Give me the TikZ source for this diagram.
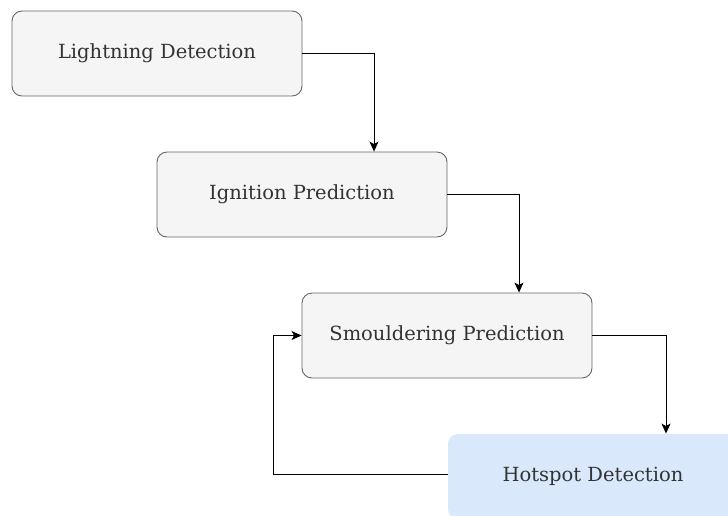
\documentclass[tikz,border=0pt]{standalone}
\usepackage{fontspec}
\setmainfont{DejaVu Serif}
\usetikzlibrary{arrows.meta}
\definecolor{boxfill}{HTML}{F5F5F5}
\definecolor{boxline}{HTML}{666666}
\definecolor{bluefill}{HTML}{DAE8FC}
\definecolor{txt}{HTML}{333333}
\tikzset{
  proc/.style={draw=boxline, fill=boxfill, line width=0.9pt, rounded corners=10pt,
    minimum width=290pt, minimum height=85pt, inner sep=0pt,
    font=\fontsize{19.5}{22}\selectfont, text=txt},
  hot/.style={proc, draw=none, fill=bluefill},
  conn/.style={draw=black, line width=0.9pt, -{Stealth[length=10pt,width=9pt,inset=2.5pt]}}
}
\begin{document}
\begin{tikzpicture}[x=1pt,y=-1pt]
\clip (0,0) rectangle (728,515);
\useasboundingbox (0,0) rectangle (728,515);
\node[proc] (ld) at (157,53.5) {\raisebox{-2pt}{Lightning Detection}};
\node[proc] (ip) at (302,194.5) {\raisebox{-2pt}{Ignition Prediction}};
\node[proc] (sp) at (447,335.5) {\raisebox{-2pt}{Smouldering Prediction}};
\node[hot] (hd) at (593,476.5) {\raisebox{-1pt}{Hotspot Detection}};
\coordinate (c1) at (374,53.5);
\coordinate (c2) at (519,194.5);
\coordinate (c3) at (666,335.5);
\coordinate (c4) at (273,474);
\coordinate (c5) at (273,335.5);
\draw[conn] (ld.east) -- (c1) -- (ip.north -| c1);
\draw[conn] (ip.east) -- (c2) -- (sp.north -| c2);
\draw[conn] (sp.east) -- (c3) -- (hd.north -| c3);
\draw[conn] (hd.west |- c4) -- (c4) -- (c5) -- (sp.west);
\end{tikzpicture}
\end{document}
